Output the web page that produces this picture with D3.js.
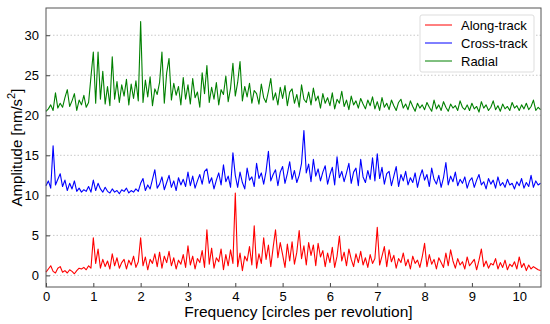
<!DOCTYPE html>
<html>
<head>
<meta charset="utf-8">
<script src="https://cdn.jsdelivr.net/npm/d3@7"></script>
<style>
body { margin: 0; background: #fff; }
svg { font-family: "Liberation Sans", Arial, sans-serif; }
.grid line { stroke: #c8c8c8; stroke-dasharray: 1.5,2; }
.axis text { font-size: 13px; fill: #000; }
.axis path { display: none; }
.axis line { stroke: #444; }
</style>
</head>
<body>
<script>
//-----
//Data
//-----
var freqStep = 0.05

var seriesNames = ['Along-track', 'Cross-track', 'Radial']
var seriesColors = ['#ff0000', '#0000ff', '#008000']

var alongTrack = [
	0.4,0.8,1.2,0.5,0.3,0.9,1.1,0.4,0.6,0.3,0.7,0.5,0.2,0.6,0.9,0.8,1.0,0.7,1.2,0.9,
	4.7,1.5,3.3,0.9,2.0,1.1,1.8,0.8,2.7,1.2,2.2,0.9,1.6,2.0,0.8,1.9,1.3,2.4,1.0,1.7,
	4.7,1.2,2.3,0.7,2.0,1.5,2.7,1.1,2.9,0.9,2.4,1.6,3.0,1.2,2.2,0.8,1.9,1.4,2.6,1.0,
	3.7,1.3,2.4,0.8,2.1,1.6,3.1,1.0,5.7,1.4,3.4,0.9,2.2,1.7,3.3,0.7,2.6,1.2,3.2,1.5,
	10.3,1.1,2.8,0.6,2.4,1.8,3.6,1.3,6.2,0.9,2.7,1.5,4.7,2.0,3.8,1.1,3.5,5.7,2.2,4.1,
	2.6,1.0,3.9,1.8,4.2,1.4,2.9,5.6,2.1,3.7,1.3,4.1,2.5,3.8,1.2,4.0,2.3,3.1,1.1,2.8,
	1.6,3.5,1.0,2.4,4.9,1.8,2.9,1.2,3.3,2.0,1.1,2.7,1.6,3.0,1.3,2.2,1.0,2.6,1.5,2.1,
	6.0,1.3,2.4,3.6,1.1,3.2,1.7,2.5,0.9,2.1,1.6,2.8,1.2,2.0,0.8,2.4,1.5,1.9,1.0,2.3,
	4.0,1.1,2.6,1.4,2.0,0.8,2.2,1.6,1.0,2.8,1.2,3.2,1.8,0.9,2.1,1.3,1.7,0.8,2.3,1.2,
	1.6,2.0,0.7,1.9,3.3,1.1,1.8,0.9,1.5,1.3,2.1,0.8,1.6,1.0,1.9,0.7,1.4,1.1,1.7,0.8,
	2.3,1.0,1.5,0.6,1.3,0.8,1.1,0.9,0.7,0.6
]

var crossTrack = [
	11.2,11.8,10.9,16.2,11.3,12.0,12.7,11.1,11.9,10.6,11.5,10.8,11.8,10.5,10.9,10.4,10.7,10.5,11.1,10.4,
	11.9,10.6,11.5,10.8,10.4,11.0,10.5,10.3,10.8,10.4,10.6,10.2,10.7,10.5,10.9,10.3,10.6,10.4,10.8,10.5,
	11.5,12.1,10.6,11.3,10.8,12.0,13.2,10.9,11.4,12.3,10.7,11.6,12.5,11.0,11.8,10.6,12.2,11.3,12.0,11.1,
	12.9,11.2,12.4,10.9,11.8,12.6,11.4,13.0,13.3,11.5,12.2,10.8,11.9,12.8,11.3,13.8,11.7,12.4,11.0,15.3,
	12.5,11.0,12.9,11.6,10.8,13.4,11.9,12.3,11.1,14.0,12.1,12.8,11.4,13.0,15.5,11.8,12.6,13.2,11.2,12.9,
	13.6,11.5,12.7,14.2,12.0,13.1,11.6,12.5,14.0,18.1,12.8,13.9,11.7,14.5,12.4,13.3,11.8,12.9,13.7,11.4,
	12.6,13.5,11.3,14.8,12.2,13.0,11.7,12.8,14.0,11.5,12.9,13.4,11.2,14.5,12.3,11.6,13.1,12.0,14.7,11.8,
	15.2,12.1,13.5,11.4,12.7,13.0,11.2,12.4,13.6,11.1,12.6,11.8,13.0,11.3,12.2,11.6,12.8,11.0,12.3,13.2,
	11.9,12.6,11.1,13.4,12.0,11.4,12.5,11.0,12.2,14.1,11.3,12.4,11.7,12.9,11.2,12.0,11.5,12.3,10.9,11.8,
	12.2,11.0,11.9,12.6,11.3,11.7,10.8,12.1,11.4,11.9,10.9,12.3,11.2,11.6,11.0,12.0,11.3,11.5,10.8,11.7,
	11.2,12.1,10.9,11.6,11.1,12.5,11.0,11.8,11.3,11.5
]

var radial = [
	20.5,20.8,21.3,20.6,22.8,20.9,21.5,21.0,22.2,23.2,21.1,21.8,22.7,20.6,21.9,21.3,22.5,21.0,21.6,24.8,
	27.9,21.5,27.9,22.0,25.5,21.4,23.6,21.2,27.3,22.0,24.2,21.6,23.8,22.4,24.5,21.3,23.9,22.1,24.3,21.8,
	31.7,21.6,24.4,22.3,24.8,21.2,23.3,22.6,24.1,27.9,21.5,25.3,27.1,21.9,24.0,22.5,23.6,21.3,24.7,22.0,
	23.8,21.4,24.6,22.2,22.9,21.0,25.3,22.7,26.2,21.6,23.5,22.0,24.1,21.3,23.2,22.6,24.9,21.7,23.4,26.5,
	22.4,24.1,26.7,21.8,23.6,22.3,24.0,21.5,23.1,22.7,21.4,23.9,22.2,21.6,23.0,24.6,21.9,22.8,21.3,23.5,
	22.1,23.7,21.2,22.9,23.3,21.5,22.6,21.0,23.8,22.0,21.6,22.9,21.3,23.4,21.8,22.4,20.9,22.7,21.5,22.2,
	21.2,22.8,20.8,22.0,21.5,23.0,21.1,21.9,20.7,22.4,21.3,21.8,20.9,22.1,21.4,20.8,21.9,21.2,22.3,20.8,
	21.7,20.6,22.2,21.0,21.5,20.7,21.9,21.2,20.6,21.6,22.0,20.9,21.4,20.7,21.8,21.1,20.5,21.5,20.9,21.3,
	20.7,21.6,21.0,20.5,21.9,20.8,21.3,20.6,21.7,21.0,20.5,21.4,20.9,21.2,20.6,21.8,21.0,20.7,21.3,20.6,
	21.5,20.8,21.1,20.4,21.7,20.9,21.3,20.6,21.0,21.8,20.7,21.2,20.5,21.4,20.8,21.1,20.6,21.6,20.9,21.2,
	20.6,21.3,20.8,21.5,20.7,21.1,21.9,20.6,21.0,20.7
]

var xTicks = [0,1,2,3,4,5,6,7,8,9,10]
var yTicks = [0,5,10,15,20,25,30]

//------
//Setup
//------
var _width = 550,
	_height = 324
var _margin = {top: 8, right: 9, bottom: 37, left: 46}
var _w = _width - _margin.left - _margin.right,
	_h = _height - _margin.top - _margin.bottom

var _svg = d3.select('body').append('svg')
	.attr('width', _width)
	.attr('height', _height)

var _g = _svg.append('g')
	.attr('transform', 'translate(' + _margin.left + ',' + _margin.top + ')')

var x = d3.scaleLinear().domain([0, 10.46]).range([0, _w])
var y = d3.scaleLinear().domain([-1.45, 33.4]).range([_h, 0])

//Grid
_g.append('g').attr('class', 'grid')
	.selectAll('line').data(yTicks).enter().append('line')
	.attr('x1', 0).attr('x2', _w)
	.attr('y1', function(d){ return y(d) }).attr('y2', function(d){ return y(d) })

//Axes, ticks pointing inward
_g.append('g').attr('class', 'axis')
	.attr('transform', 'translate(0,' + _h + ')')
	.call(d3.axisBottom(x).tickValues(xTicks).tickSize(-4).tickPadding(5))
_g.append('g').attr('class', 'axis')
	.call(d3.axisLeft(y).tickValues(yTicks).tickSize(-4).tickPadding(7))

//Lines
var allSeries = [alongTrack, crossTrack, radial]
var line = d3.line()
	.x(function(d, i){ return x(i * freqStep) })
	.y(function(d){ return y(d) })

_g.append('g').selectAll('path.series').data(allSeries).enter().append('path')
	.attr('class', 'series')
	.attr('fill', 'none')
	.attr('stroke', function(d, i){ return seriesColors[i] })
	.attr('stroke-width', 1.1)
	.attr('stroke-linejoin', 'round')
	.attr('d', line)

//Frame
_g.append('rect')
	.attr('width', _w).attr('height', _h)
	.attr('fill', 'none').attr('stroke', '#555').attr('stroke-width', 1)

//Axis labels
_svg.append('text')
	.attr('x', _margin.left + x(5.25) + 4).attr('y', 317)
	.attr('text-anchor', 'middle')
	.style('font-size', '15.5px')
	.text('Frequency [circles per revolution]')

var yl = _svg.append('text')
	.attr('transform', 'translate(22,' + (_margin.top + _h / 2) + ') rotate(-90)')
	.attr('text-anchor', 'middle')
	.style('font-size', '15px')
yl.append('tspan').text('Amplitude [nm/s')
yl.append('tspan').attr('dy', -7).style('font-size', '11px').text('2')
yl.append('tspan').attr('dy', 7).text(']')

//Legend
var lg = _svg.append('g').attr('transform', 'translate(420,15)')
lg.append('rect')
	.attr('width', 114).attr('height', 57).attr('rx', 2)
	.attr('fill', '#fff').attr('stroke', '#ddd')
var items = lg.selectAll('g.item').data(seriesNames).enter().append('g')
	.attr('class', 'item')
	.attr('transform', function(d, i){ return 'translate(0,' + (10 + i * 18) + ')' })
items.append('line')
	.attr('x1', 5).attr('x2', 32).attr('y1', 0).attr('y2', 0)
	.attr('stroke', function(d, i){ return seriesColors[i] })
items.append('text')
	.attr('x', 41).attr('y', 4.5)
	.style('font-size', '13px')
	.text(function(d){ return d })
</script>
</body>
</html>
